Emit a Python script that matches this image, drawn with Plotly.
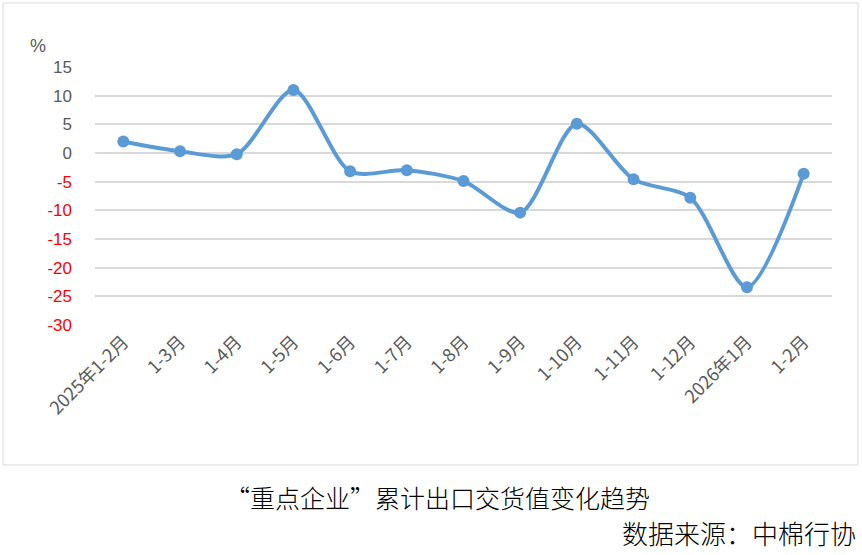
import plotly.graph_objects as go

categories = ["2025年1-2月", "1-3月", "1-4月", "1-5月", "1-6月", "1-7月", "1-8月",
              "1-9月", "1-10月", "1-11月", "1-12月", "2026年1月", "1-2月"]
values = [2.0, 0.3, -0.2, 11.0, -3.2, -3.0, -4.9, -10.4, 5.1, -4.6, -7.8, -23.4, -3.6]
y_ticks = [15, 10, 5, 0, -5, -10, -15, -20, -25, -30]

W, H = 862, 555
L, R, T, B = 95, 30, 67, 230
pw, ph = W - L - R, H - T - B

def px_x(px):
    return (px - L) / pw

def px_y(py):
    return (H - B - py) / ph

ticktext = [(f"<span style='color:#FF0000'>{v}</span>" if v < 0 else str(v)) for v in y_ticks]

fig = go.Figure()
fig.add_trace(go.Scatter(
    x=list(range(len(categories))), y=values, mode="lines+markers",
    line=dict(color="#5B9BD5", width=4, shape="spline", smoothing=0.8),
    marker=dict(color="#5B9BD5", size=12),
    showlegend=False, cliponaxis=False,
))

fig.update_layout(
    width=W, height=H,
    margin=dict(l=L, r=R, t=T, b=B),
    plot_bgcolor="white", paper_bgcolor="white",
    font=dict(family="Liberation Sans, Noto Sans CJK SC", color="#595959", size=16),
    xaxis=dict(
        range=[-0.5, len(categories) - 0.5],
        tickmode="array", tickvals=list(range(len(categories))), ticktext=categories,
        tickangle=-45, showgrid=False, zeroline=False, showline=False,
        tickfont=dict(size=18, color="#595959", family="Noto Sans CJK SC"),
        ticks="", ticklabelstandoff=2,
    ),
    yaxis=dict(
        range=[-30, 15], tickmode="array", tickvals=y_ticks, ticktext=ticktext,
        showgrid=True, gridcolor="#D9D9D9", gridwidth=1.5, zeroline=False, showline=False,
        tickfont=dict(size=17, color="#595959"), ticks="", ticklabelstandoff=22,
    ),
    shapes=[dict(type="rect", xref="paper", yref="paper",
                 x0=px_x(3), x1=px_x(858), y0=px_y(465), y1=px_y(3),
                 line=dict(color="#D9D9D9", width=1), layer="below")],
    annotations=[
        dict(text="%", xref="paper", yref="paper", x=px_x(38), y=px_y(46),
             showarrow=False, font=dict(size=18, color="#595959"), xanchor="center", yanchor="middle"),
        dict(text="“重点企业”累计出口交货值变化趋势", xref="paper", yref="paper",
             x=px_x(437), y=px_y(497), showarrow=False, xanchor="center", yanchor="middle",
             font=dict(size=25, color="#000000", family="Noto Sans CJK SC", weight=300)),
        dict(text="数据来源：中棉行协", xref="paper", yref="paper",
             x=px_x(858), y=px_y(532), showarrow=False, xanchor="right", yanchor="middle",
             font=dict(size=26, color="#000000", family="Noto Sans CJK SC", weight=300)),
    ],
)

fig.write_html("out.html", config={"displayModeBar": False},
               post_script="document.body.style.margin='0';")
